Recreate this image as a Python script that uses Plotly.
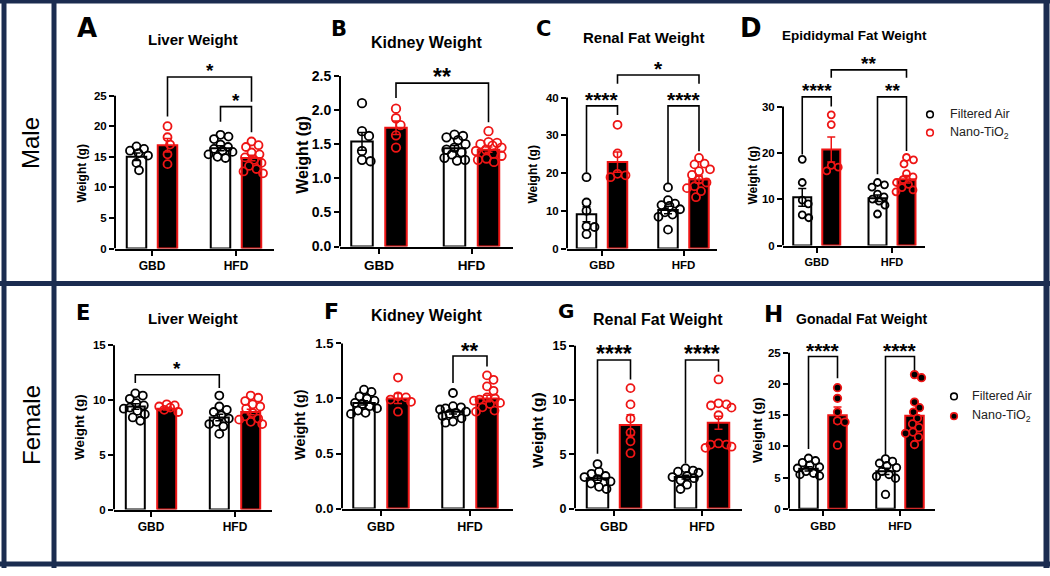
import plotly.graph_objects as go

W, H = 1050, 576
NAVY = "#1b2c50"
RED = "#ee1515"
FONT = "Liberation Sans"

groups = ["GBD", "HFD"]

# ---------------- data ----------------
# A  Male liver weight
a_air_gbd = [16.7, 16.3, 16.0, 15.6, 15.2, 14.0, 12.8]
a_tio2_gbd = [20.0, 18.2, 17.0, 15.4, 13.8]
a_air_hfd = [18.6, 18.3, 17.9, 17.0, 16.6, 16.3, 16.0, 15.8, 15.4, 15.0, 14.8]
a_tio2_hfd = [17.5, 16.9, 16.6, 15.7, 15.4, 14.9, 14.5, 14.0, 13.5, 13.0, 12.6, 12.3]
a_mean_air, a_mean_tio2 = [15.0, 16.4], [16.9, 14.8]
a_sem_air, a_sem_tio2 = [0.6, 0.4], [1.1, 0.45]
a_sig = [(0, 1, 1, 1, 28.06, 21.6, 24.0, "*"), (1, 0, 1, 1, 23.2, 20.75, 19.0, "*")]

# B  Male kidney weight
b_air_gbd = [2.10, 1.69, 1.62, 1.40, 1.27, 1.25]
b_tio2_gbd = [2.02, 1.88, 1.78, 1.63, 1.45]
b_air_hfd = [1.64, 1.62, 1.60, 1.56, 1.50, 1.45, 1.42, 1.38, 1.35, 1.30, 1.27, 1.26]
b_tio2_hfd = [1.69, 1.53, 1.52, 1.50, 1.48, 1.45, 1.42, 1.40, 1.36, 1.33, 1.29, 1.27, 1.24]
b_mean_air, b_mean_tio2 = [1.54, 1.44], [1.74, 1.42]
b_sem_air, b_sem_tio2 = [0.13, 0.04], [0.10, 0.04]
b_sig = [(0, 1, 1, 1, 2.394, 2.176, 1.82, "**")]

# C  Male renal fat weight
c_air_gbd = [18.9, 12.2, 10.0, 5.9, 5.7, 3.8]
c_tio2_gbd = [32.8, 25.2, 19.8, 19.4, 18.9]
c_air_hfd = [16.2, 12.8, 11.9, 11.5, 11.3, 10.4, 9.6, 9.0, 8.4, 5.0]
c_tio2_hfd = [24.0, 22.5, 22.3, 21.0, 20.5, 19.5, 18.2, 17.5, 16.5, 16.0, 15.2, 13.6]
c_mean_air, c_mean_tio2 = [9.1, 10.2], [22.9, 18.3]
c_sem_air, c_sem_tio2 = [2.0, 1.0], [2.7, 0.9]
c_sig = [(0, 1, 1, 1, 46.0, 43.7, 43.7, "*"), (0, 0, 0, 1, 37.8, 20.1, 35.4, "****"),
         (1, 0, 1, 1, 37.8, 17.3, 25.8, "****")]

# D  Male epididymal fat weight
d_air_gbd = [18.6, 13.6, 9.8, 9.0, 6.6, 6.0]
d_tio2_gbd = [28.2, 26.1, 17.3, 16.9, 16.1]
d_air_hfd = [13.6, 13.1, 12.6, 11.1, 10.5, 10.0, 9.6, 8.7, 6.8]
d_tio2_hfd = [19.0, 18.5, 17.6, 15.5, 14.8, 14.2, 13.6, 13.2, 12.5, 12.0, 11.6]
d_mean_air, d_mean_tio2 = [10.4, 10.2], [20.7, 14.3]
d_sem_air, d_sem_tio2 = [1.9, 0.7], [2.7, 0.8]
d_sig = [(0, 1, 1, 1, 37.9, 36.2, 36.2, "**"), (0, 0, 0, 1, 32.07, 19.65, 30.0, "****"),
         (1, 0, 1, 1, 32.07, 15.4, 20.4, "**")]

# E  Female liver weight
e_air_gbd = [10.6, 10.4, 10.1, 9.7, 9.5, 9.3, 9.2, 9.0, 8.7, 8.4, 8.1]
e_tio2_gbd = [9.6, 9.5, 9.4, 9.3, 9.1, 8.9]
e_air_hfd = [10.4, 9.4, 9.1, 8.9, 8.6, 8.3, 8.0, 7.8, 7.6, 6.9]
e_tio2_hfd = [10.4, 10.2, 9.9, 9.6, 9.4, 9.2, 8.8, 8.5, 8.3, 8.2, 8.0, 7.8]
e_mean_air, e_mean_tio2 = [9.4, 8.4], [9.2, 8.9]
e_sem_air, e_sem_tio2 = [0.25, 0.3], [0.12, 0.25]
e_sig = [(0, 0, 1, 0, 12.3, 11.55, 11.1, "*")]

# F  Female kidney weight
f_air_gbd = [1.08, 1.06, 1.02, 1.00, 0.98, 0.96, 0.95, 0.93, 0.91, 0.89, 0.87, 0.86]
f_tio2_gbd = [1.19, 1.02, 1.01, 0.99, 0.97, 0.88]
f_air_hfd = [1.05, 0.93, 0.92, 0.91, 0.90, 0.88, 0.87, 0.86, 0.84, 0.82, 0.79, 0.78]
f_tio2_hfd = [1.21, 1.17, 1.11, 1.07, 1.01, 1.00, 0.99, 0.98, 0.96, 0.95, 0.92, 0.89, 0.88]
f_mean_air, f_mean_tio2 = [0.96, 0.88], [1.00, 1.00]
f_sem_air, f_sem_tio2 = [0.02, 0.02], [0.045, 0.03]
f_sig = [(1, 0, 1, 1, 1.386, 1.141, 1.29, "**")]

# G  Female renal fat weight
g_air_gbd = [4.1, 3.4, 3.2, 3.0, 2.9, 2.7, 2.5, 2.3, 2.0, 1.8]
g_tio2_gbd = [11.1, 9.6, 8.3, 7.0, 6.2, 5.1]
g_air_hfd = [3.7, 3.5, 3.4, 3.3, 3.0, 2.9, 2.8, 2.6, 2.2, 1.8]
g_tio2_hfd = [11.9, 9.7, 9.6, 9.5, 9.3, 8.6, 6.0, 5.9, 5.9, 5.7, 5.6]
g_mean_air, g_mean_tio2 = [2.8, 2.9], [7.7, 7.9]
g_sem_air, g_sem_tio2 = [0.2, 0.18], [0.95, 0.6]
g_sig = [(0, 0, 0, 1, 13.7, 5.06, 11.9, "****"), (1, 0, 1, 1, 13.7, 4.15, 12.6, "****")]

# H  Female gonadal fat weight
h_air_gbd = [8.1, 7.7, 7.4, 7.0, 6.7, 6.5, 6.0, 5.7, 5.5, 5.3]
h_tio2_gbd = [19.4, 17.7, 15.5, 14.1, 13.9, 10.2]
h_air_hfd = [8.0, 7.6, 7.3, 6.9, 6.6, 6.0, 5.5, 5.2, 4.9, 2.3]
h_tio2_hfd = [21.5, 21.0, 17.1, 16.2, 15.5, 14.5, 13.6, 13.0, 12.3, 12.1, 11.5, 10.3]
h_mean_air, h_mean_tio2 = [6.4, 6.0], [15.0, 14.9]
h_sem_air, h_sem_tio2 = [0.35, 0.5], [1.3, 1.0]
h_sig = [(0, 0, 0, 1, 24.4, 9.6, 20.9, "****"), (1, 0, 1, 1, 24.4, 8.6, 22.2, "****")]

panels = [
    ("A", "Liver Weight", [a_air_gbd, a_air_hfd], [a_tio2_gbd, a_tio2_hfd], a_mean_air, a_mean_tio2, a_sem_air, a_sem_tio2, a_sig),
    ("B", "Kidney Weight", [b_air_gbd, b_air_hfd], [b_tio2_gbd, b_tio2_hfd], b_mean_air, b_mean_tio2, b_sem_air, b_sem_tio2, b_sig),
    ("C", "Renal Fat Weight", [c_air_gbd, c_air_hfd], [c_tio2_gbd, c_tio2_hfd], c_mean_air, c_mean_tio2, c_sem_air, c_sem_tio2, c_sig),
    ("D", "Epididymal Fat Weight", [d_air_gbd, d_air_hfd], [d_tio2_gbd, d_tio2_hfd], d_mean_air, d_mean_tio2, d_sem_air, d_sem_tio2, d_sig),
    ("E", "Liver Weight", [e_air_gbd, e_air_hfd], [e_tio2_gbd, e_tio2_hfd], e_mean_air, e_mean_tio2, e_sem_air, e_sem_tio2, e_sig),
    ("F", "Kidney Weight", [f_air_gbd, f_air_hfd], [f_tio2_gbd, f_tio2_hfd], f_mean_air, f_mean_tio2, f_sem_air, f_sem_tio2, f_sig),
    ("G", "Renal Fat Weight", [g_air_gbd, g_air_hfd], [g_tio2_gbd, g_tio2_hfd], g_mean_air, g_mean_tio2, g_sem_air, g_sem_tio2, g_sig),
    ("H", "Gonadal Fat Weight", [h_air_gbd, h_air_hfd], [h_tio2_gbd, h_tio2_hfd], h_mean_air, h_mean_tio2, h_sem_air, h_sem_tio2, h_sig),
]

# ---------------- layout geometry (pixels) ----------------
geom = {
    "A": dict(x0=115, x1=274, yb=252, yt=97, ymax=25, dt=5, c=(152, 236), off=15.5, bw=19.5, ms=8, tfs=11.5, xfs=12,
              tt=(193, 40, 15), let=(87, 28, 26), yl=(82, 176, 12), star=19, fmt="d"),
    "B": dict(x0=340, x1=513, yb=250, yt=77, ymax=2.5, dt=0.5, c=(379, 471.5), off=17, bw=21.5, ms=8.5, tfs=14, xfs=13.5,
              tt=(426, 43, 16), let=(338.5, 29, 21), yl=(303, 157, 16), star=23, fmt=".1f"),
    "C": dict(x0=567, x1=717, yb=252, yt=99, ymax=40, dt=10, c=(602, 683.5), off=15.5, bw=19.5, ms=8, tfs=11.5, xfs=11.5,
              tt=(643, 38, 15), let=(543.5, 29, 21), yl=(533, 177, 12), star=21, fmt="d"),
    "D": dict(x0=783, x1=925, yb=249, yt=108, ymax=30, dt=10, c=(816.75, 892), off=14.5, bw=18, ms=7, tfs=11.5, xfs=11,
              tt=(854, 36, 13.5), let=(751, 28, 26), yl=(753, 178, 12), star=19, fmt="d"),
    "E": dict(x0=114, x1=272, yb=516.7, yt=350, ymax=15, dt=5, c=(151, 235), off=15.7, bw=19, ms=8, tfs=11.5, xfs=12,
              tt=(193, 323, 15), let=(82.5, 317, 21), yl=(80, 433, 13.5), star=19, fmt="d"),
    "F": dict(x0=342, x1=513, yb=515.7, yt=348.3, ymax=1.5, dt=0.5, c=(381, 470), off=17, bw=21.5, ms=8, tfs=13, xfs=12.5,
              tt=(426, 320, 16), let=(331.5, 316, 22), yl=(300, 431, 14.5), star=22, fmt=".1f"),
    "G": dict(x0=575, x1=742, yb=515.7, yt=350.7, ymax=15, dt=5, c=(614, 702), off=16.5, bw=21.5, ms=8, tfs=12.5, xfs=12.5,
              tt=(658, 324, 16), let=(566, 315, 20), yl=(538, 437, 15.5), star=23, fmt="d"),
    "H": dict(x0=789, x1=935, yb=516, yt=357.7, ymax=25, dt=5, c=(823, 900), off=14.5, bw=18.5, ms=7.5, tfs=11.5, xfs=11.5,
              tt=(862, 323, 14), let=(773.5, 318, 23), yl=(758, 436, 13.5), star=21, fmt="d"),
}


def fx(x):
    return x / W


def fy(y):
    return 1 - y / H


def swarm(vals, ppu_y, unit, diam, maxw):
    """Deterministic beeswarm: horizontal offsets (axis units) so markers do not pile up."""
    cands = [0.0]
    k = 1
    while k * 0.5 <= maxw:
        cands += [k * 0.5, -k * 0.5]
        k += 1
    placed = []
    res = [0.0] * len(vals)
    order = sorted(range(len(vals)), key=lambda i: -vals[i])
    lim = (0.78 * diam) ** 2
    for i in order:
        yy = vals[i] * ppu_y
        best = None
        for cnd in cands:
            if all((cnd - px_) ** 2 + (yy - qy) ** 2 >= lim for px_, qy in placed):
                best = cnd
                break
        if best is None:
            best = max(cands, key=lambda cnd: min((cnd - px_) ** 2 + (yy - qy) ** 2 for px_, qy in placed))
        placed.append((best, yy))
        res[i] = best / unit
    return res


fig = go.Figure()
layout = dict(width=W, height=H, margin=dict(l=0, r=0, t=0, b=0), paper_bgcolor="white",
              plot_bgcolor="rgba(0,0,0,0)", showlegend=False, barmode="overlay",
              font=dict(family=FONT, color="black"))
shapes, annotations = [], []

for n, (key, title, air, tio2, m_air, m_tio2, s_air, s_tio2, sig) in enumerate(panels, start=1):
    g = geom[key]
    xa = "x" if n == 1 else f"x{n}"
    ya = "y" if n == 1 else f"y{n}"
    unit = g["c"][1] - g["c"][0]
    off = g["off"] / unit
    bw = g["bw"] / unit
    ppu_y = (g["yb"] - g["yt"]) / g["ymax"]
    ytop = 56 if g["yb"] < 300 else 340
    ytop_val = (g["yb"] - ytop) / ppu_y
    red_fill = key == "H"

    # bars
    fig.add_trace(go.Bar(x=[gi - off for gi in range(2)], y=m_air, width=bw, xaxis=xa, yaxis=ya,
                         marker=dict(color="white", line=dict(color="black", width=2)),
                         error_y=dict(type="data", array=s_air, color="black", thickness=1.5, width=4)))
    fig.add_trace(go.Bar(x=[gi + off for gi in range(2)], y=m_tio2, width=bw, xaxis=xa, yaxis=ya,
                         marker=dict(color="black", line=dict(color=RED, width=2)),
                         error_y=dict(type="data", array=s_tio2, color=RED, thickness=1.5, width=4)))
    # points
    diam = g["ms"] + 2
    for gi in range(2):
        for side, vals in ((-1, air[gi]), (1, tio2[gi])):
            jit = swarm(vals, ppu_y, unit, diam, g["bw"] * 0.62)
            xs = [gi + side * off + j for j in jit]
            if side < 0:
                mk = dict(symbol="circle-open", size=g["ms"], color="black", line=dict(width=1.8, color="black"))
            elif red_fill:
                mk = dict(symbol="circle", size=g["ms"], color="black", line=dict(width=1.8, color=RED))
            else:
                mk = dict(symbol="circle-open", size=g["ms"], color=RED, line=dict(width=1.8, color=RED))
            fig.add_trace(go.Scatter(x=xs, y=vals, mode="markers", marker=mk, xaxis=xa, yaxis=ya,
                                     cliponaxis=False, hoverinfo="skip"))

    nt = int(round(g["ymax"] / g["dt"]))
    tvals = [k * g["dt"] for k in range(nt + 1)]
    layout["xaxis" if n == 1 else f"xaxis{n}"] = dict(
        domain=[fx(g["x0"]), fx(g["x1"])],
        range=[(g["x0"] - g["c"][0]) / unit, (g["x1"] - g["c"][0]) / unit],
        anchor=ya, showline=True, linecolor="black", linewidth=2, ticks="outside", ticklen=5,
        tickwidth=2, tickcolor="black", tickvals=[0, 1], ticktext=groups,
        tickfont=dict(family=FONT, size=g["xfs"], color="black", weight="bold"),
        showgrid=False, zeroline=False, fixedrange=True)
    layout["yaxis" if n == 1 else f"yaxis{n}"] = dict(
        domain=[fy(g["yb"]), fy(ytop)], range=[0, ytop_val], anchor=xa, showline=False,
        ticks="outside", ticklen=5, tickwidth=2, tickcolor="black", tickvals=tvals,
        tickformat=g["fmt"], tickfont=dict(family=FONT, size=g["tfs"], color="black", weight="bold"),
        showgrid=False, zeroline=False, fixedrange=True)
    # y axis line only up to the top tick
    shapes.append(dict(type="line", xref="paper", yref=ya, x0=fx(g["x0"]), x1=fx(g["x0"]),
                       y0=0, y1=g["ymax"], line=dict(color="black", width=2)))

    # significance brackets
    for gl, sl, gr, sr, ytp, yle, yre, lab in sig:
        xl = gl + (off if sl else -off)
        xr = gr + (off if sr else -off)
        shapes.append(dict(type="path", xref=xa, yref=ya,
                           path=f"M {xl},{yle} L {xl},{ytp} L {xr},{ytp} L {xr},{yre}",
                           line=dict(color="black", width=1.6)))
        annotations.append(dict(text=lab, xref=xa, yref=ya, x=(xl + xr) / 2, y=ytp, yshift=6,
                                yanchor="middle", xanchor="center", showarrow=False,
                                font=dict(family=FONT, size=g["star"], color="black", weight="bold")))

    # title, panel letter, y-axis title
    tx, ty, ts = g["tt"]
    annotations.append(dict(text=title, xref="paper", yref="paper", x=fx(tx), y=fy(ty), xanchor="center",
                            yanchor="middle", showarrow=False,
                            font=dict(family=FONT, size=ts, color="black", weight="bold")))
    lx, ly, ls = g["let"]
    annotations.append(dict(text=key, xref="paper", yref="paper", x=fx(lx), y=fy(ly), xanchor="center",
                            yanchor="middle", showarrow=False,
                            font=dict(family="DejaVu Sans", size=ls, color="black", weight="bold")))
    wx, wy, wsz = g["yl"]
    annotations.append(dict(text="Weight (g)", xref="paper", yref="paper", x=fx(wx), y=fy(wy), xanchor="center",
                            yanchor="middle", textangle=-90, showarrow=False,
                            font=dict(family=FONT, size=wsz, color="black", weight="bold")))

# legends (panel D and panel H)
legend_items = [
    (930, 116, "Filtered Air", "white", "black", 948),
    (930, 134.5, "Nano-TiO<sub>2</sub>", "white", RED, 948),
    (954, 402, "Filtered Air", "white", "black", 970),
    (954, 422, "Nano-TiO<sub>2</sub>", "black", RED, 970),
]
for cx, cy, txt, fill, edge, tx0 in legend_items:
    shapes.append(dict(type="circle", xref="paper", yref="paper", xsizemode="pixel", ysizemode="pixel",
                       xanchor=fx(cx), yanchor=fy(cy), x0=-3.3, x1=3.3, y0=-3.3, y1=3.3,
                       fillcolor=fill, line=dict(color=edge, width=1.6)))
    annotations.append(dict(text=txt, xref="paper", yref="paper", x=fx(tx0), y=fy(cy), xanchor="left",
                            yanchor="middle", showarrow=False, font=dict(family=FONT, size=12.5, color="#222")))

# row labels
for txt, cy in (("Male", 145), ("Female", 431)):
    annotations.append(dict(text=txt, xref="paper", yref="paper", x=fx(31), y=fy(cy), textangle=-90,
                            xanchor="center", yanchor="middle", showarrow=False,
                            font=dict(family=FONT, size=24, color="black")))

# frame
frame = [
    (0, 1.5, W, 1.5, 4), (0, 572, W, 572, 5), (4, 0, 4, H, 5), (1046.5, 0, 1046.5, H, 6),
    (0, 287.5, W, 287.5, 5), (54, 0, 54, H, 5),
]
for x0, y0, x1, y1, wd in frame:
    shapes.append(dict(type="line", xref="paper", yref="paper", x0=fx(x0), y0=fy(y0), x1=fx(x1), y1=fy(y1),
                       line=dict(color=NAVY, width=wd)))

layout["shapes"] = shapes
layout["annotations"] = annotations
fig.update_layout(**layout)
fig.write_html("out.html", config={"displayModeBar": False})
